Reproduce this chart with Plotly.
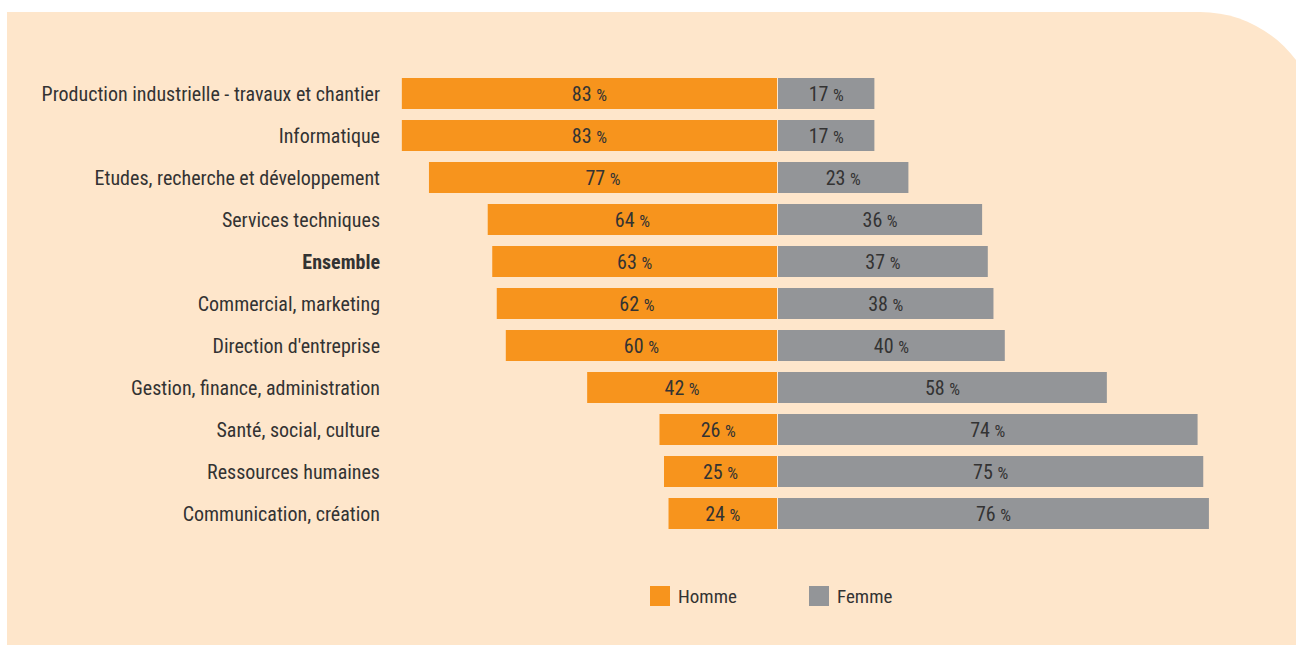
import plotly.graph_objects as go

categories = ["Production industrielle - travaux et chantier", "Informatique",
              "Etudes, recherche et développement", "Services techniques", "Ensemble",
              "Commercial, marketing", "Direction d'entreprise",
              "Gestion, finance, administration", "Santé, social, culture",
              "Ressources humaines", "Communication, création"]
homme = [83, 83, 77, 64, 63, 62, 60, 42, 26, 25, 24]
femme = [17, 17, 23, 36, 37, 38, 40, 58, 74, 75, 76]
tick_text = [f"<b>{c}</b>" if c == "Ensemble" else c for c in categories]

W, H = 1296, 646
FONT = "Liberation Sans Narrow, Roboto Condensed, DejaVu Sans Condensed, sans-serif"
ORANGE = "#F7941D"
GREY = "#939598"
PEACH = "#FEE6CB"
TXT = "#333333"

def px(x): return x / W
def py(y): return 1 - y / H

def lab(v):
    return f"{v} <span style='font-size:17px'>%</span>"

fig = go.Figure()
fig.add_trace(go.Bar(y=categories, x=homme, orientation="h", xaxis="x", yaxis="y",
                     marker=dict(color=ORANGE, line=dict(width=0)), width=0.74,
                     text=[lab(v) for v in homme], textposition="inside",
                     insidetextanchor="middle", textangle=0,
                     textfont=dict(family=FONT, size=20, color=TXT), name="Homme",
                     hoverinfo="skip"))
fig.add_trace(go.Bar(y=categories, x=femme, orientation="h", xaxis="x2", yaxis="y",
                     marker=dict(color=GREY, line=dict(width=0)), width=0.74,
                     text=[lab(v) for v in femme], textposition="inside",
                     insidetextanchor="middle", textangle=0,
                     textfont=dict(family=FONT, size=20, color=TXT), name="Femme",
                     hoverinfo="skip"))

# background panel with rounded top-right corner
k = 0.5523 * 120
path = (f"M {px(7)},{py(12)} L {px(1200)},{py(12)} "
        f"C {px(1200 + k)},{py(12)} {px(1320)},{py(132 - k)} {px(1320)},{py(132)} "
        f"L {px(1320)},{py(645)} L {px(7)},{py(645)} Z")
shapes = [dict(type="path", path=path, xref="paper", yref="paper",
               fillcolor=PEACH, line=dict(width=0), layer="below")]

# manual legend
annotations = []
for (x0, color, name) in [(650, ORANGE, "Homme"), (809, GREY, "Femme")]:
    shapes.append(dict(type="rect", xref="paper", yref="paper",
                       x0=px(x0), x1=px(x0 + 20), y0=py(606), y1=py(586),
                       fillcolor=color, line=dict(width=0)))
    annotations.append(dict(x=px(x0 + 26), y=py(596.5), xref="paper", yref="paper",
                            text=name, showarrow=False, xanchor="left", yanchor="middle",
                            font=dict(family=FONT, size=19, color=TXT)))

fig.update_layout(
    width=W, height=H, margin=dict(l=0, r=0, t=0, b=0),
    paper_bgcolor="white", plot_bgcolor="rgba(0,0,0,0)",
    showlegend=False, barmode="overlay",
    font=dict(family=FONT, size=18, color=TXT),
    xaxis=dict(domain=[px(392), px(777)], range=[(777 - 392) / 4.52, 0],
               visible=False, fixedrange=True, anchor="y"),
    xaxis2=dict(domain=[px(778), 1.0], range=[0, (1296 - 778) / 5.67],
                visible=False, fixedrange=True, anchor="y"),
    yaxis=dict(domain=[py(534.5), py(72.5)], range=[10.5, -0.5],
               tickmode="array", tickvals=categories, ticktext=tick_text,
               showgrid=False, zeroline=False, showline=False, ticks="",
               ticklabelstandoff=11, tickfont=dict(family=FONT, size=20, color=TXT),
               anchor="x", fixedrange=True),
    shapes=shapes, annotations=annotations,
    uniformtext=dict(mode=False),
)

fig.write_html("out.html", post_script="document.body.style.margin='0';",
               config={"displayModeBar": False})
